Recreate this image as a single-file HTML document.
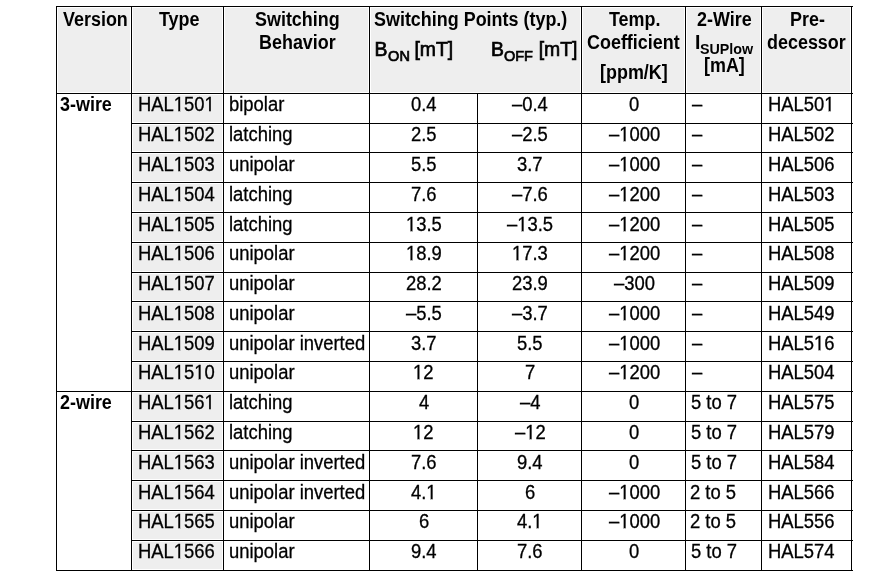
<!DOCTYPE html>
<html><head><meta charset="utf-8"><style>
html,body{margin:0;padding:0;background:#fff;width:874px;height:579px;overflow:hidden}
body{position:relative}
div{position:absolute}
#w{left:0;top:0;width:874px;height:579px;filter:grayscale(1)}
.t{font-family:"Liberation Sans",sans-serif;line-height:24px;color:#000;white-space:nowrap;transform-origin:0 0;-webkit-text-stroke:0.3px #000}
</style></head><body><div id="w">
<div style="left:58px;top:8px;width:72px;height:84px;background:#eeeeee"></div>
<div style="left:133px;top:8px;width:89px;height:84px;background:#eeeeee"></div>
<div style="left:225px;top:8px;width:143px;height:84px;background:#eeeeee"></div>
<div style="left:371px;top:8px;width:209px;height:84px;background:#eeeeee"></div>
<div style="left:583px;top:8px;width:101px;height:84px;background:#eeeeee"></div>
<div style="left:687px;top:8px;width:73px;height:84px;background:#eeeeee"></div>
<div style="left:763px;top:8px;width:87px;height:84px;background:#eeeeee"></div>
<div style="left:133px;top:95px;width:89px;height:27px;background:#eeeeee"></div>
<div style="left:133px;top:125px;width:89px;height:26px;background:#eeeeee"></div>
<div style="left:133px;top:154px;width:89px;height:27px;background:#eeeeee"></div>
<div style="left:133px;top:184px;width:89px;height:27px;background:#eeeeee"></div>
<div style="left:133px;top:214px;width:89px;height:27px;background:#eeeeee"></div>
<div style="left:133px;top:244px;width:89px;height:27px;background:#eeeeee"></div>
<div style="left:133px;top:274px;width:89px;height:26px;background:#eeeeee"></div>
<div style="left:133px;top:303px;width:89px;height:27px;background:#eeeeee"></div>
<div style="left:133px;top:333px;width:89px;height:27px;background:#eeeeee"></div>
<div style="left:133px;top:363px;width:89px;height:27px;background:#eeeeee"></div>
<div style="left:133px;top:393px;width:89px;height:27px;background:#eeeeee"></div>
<div style="left:133px;top:423px;width:89px;height:26px;background:#eeeeee"></div>
<div style="left:133px;top:452px;width:89px;height:27px;background:#eeeeee"></div>
<div style="left:133px;top:482px;width:89px;height:27px;background:#eeeeee"></div>
<div style="left:133px;top:512px;width:89px;height:27px;background:#eeeeee"></div>
<div style="left:133px;top:542px;width:89px;height:27px;background:#eeeeee"></div>
<div style="left:56px;top:6px;width:797px;height:1px;background:#000"></div>
<div style="left:56px;top:93px;width:797px;height:1px;background:#000"></div>
<div style="left:131px;top:123px;width:722px;height:1px;background:#000"></div>
<div style="left:131px;top:152px;width:722px;height:1px;background:#000"></div>
<div style="left:131px;top:182px;width:722px;height:1px;background:#000"></div>
<div style="left:131px;top:212px;width:722px;height:1px;background:#000"></div>
<div style="left:131px;top:242px;width:722px;height:1px;background:#000"></div>
<div style="left:131px;top:272px;width:722px;height:1px;background:#000"></div>
<div style="left:131px;top:301px;width:722px;height:1px;background:#000"></div>
<div style="left:131px;top:331px;width:722px;height:1px;background:#000"></div>
<div style="left:131px;top:361px;width:722px;height:1px;background:#000"></div>
<div style="left:56px;top:391px;width:797px;height:1px;background:#000"></div>
<div style="left:131px;top:421px;width:722px;height:1px;background:#000"></div>
<div style="left:131px;top:450px;width:722px;height:1px;background:#000"></div>
<div style="left:131px;top:480px;width:722px;height:1px;background:#000"></div>
<div style="left:131px;top:510px;width:722px;height:1px;background:#000"></div>
<div style="left:131px;top:540px;width:722px;height:1px;background:#000"></div>
<div style="left:56px;top:570px;width:797px;height:1px;background:#000"></div>
<div style="left:56px;top:6px;width:1px;height:565px;background:#000"></div>
<div style="left:131px;top:6px;width:1px;height:565px;background:#000"></div>
<div style="left:223px;top:6px;width:1px;height:565px;background:#000"></div>
<div style="left:369px;top:6px;width:1px;height:565px;background:#000"></div>
<div style="left:477px;top:93px;width:1px;height:478px;background:#000"></div>
<div style="left:581px;top:6px;width:1px;height:565px;background:#000"></div>
<div style="left:685px;top:6px;width:1px;height:565px;background:#000"></div>
<div style="left:761px;top:6px;width:1px;height:565px;background:#000"></div>
<div style="left:851px;top:6px;width:1px;height:565px;background:#000"></div>
<div class="t" style="left:59.99px;top:92px;font-size:19.4px;font-weight:bold;-webkit-text-stroke:0;transform:scaleX(0.925)">3-wire</div>
<div class="t" style="left:137.59px;top:92px;font-size:19.4px;transform:scaleX(0.95)">HAL1501</div>
<div class="t" style="left:228.70px;top:92px;font-size:19.4px;transform:scaleX(0.95)">bipolar</div>
<div class="t" style="left:411.00px;top:92px;font-size:19.4px;transform:scaleX(0.95)">0.4</div>
<div class="t" style="left:512.13px;top:92px;font-size:19.4px;transform:scaleX(0.95)">–0.4</div>
<div class="t" style="left:628.78px;top:92px;font-size:19.4px;transform:scaleX(0.95)">0</div>
<div class="t" style="left:692.00px;top:92px;font-size:19.4px;transform:scaleX(0.95)">–</div>
<div class="t" style="left:767.59px;top:92px;font-size:19.4px;transform:scaleX(0.95)">HAL501</div>
<div class="t" style="left:137.59px;top:122px;font-size:19.4px;transform:scaleX(0.95)">HAL1502</div>
<div class="t" style="left:228.70px;top:122px;font-size:19.4px;transform:scaleX(0.95)">latching</div>
<div class="t" style="left:411.01px;top:122px;font-size:19.4px;transform:scaleX(0.95)">2.5</div>
<div class="t" style="left:512.25px;top:122px;font-size:19.4px;transform:scaleX(0.95)">–2.5</div>
<div class="t" style="left:608.64px;top:122px;font-size:19.4px;transform:scaleX(0.95)">–1000</div>
<div class="t" style="left:692.00px;top:122px;font-size:19.4px;transform:scaleX(0.95)">–</div>
<div class="t" style="left:767.59px;top:122px;font-size:19.4px;transform:scaleX(0.95)">HAL502</div>
<div class="t" style="left:137.59px;top:152px;font-size:19.4px;transform:scaleX(0.95)">HAL1503</div>
<div class="t" style="left:228.70px;top:152px;font-size:19.4px;transform:scaleX(0.95)">unipolar</div>
<div class="t" style="left:411.11px;top:152px;font-size:19.4px;transform:scaleX(0.95)">5.5</div>
<div class="t" style="left:517.10px;top:152px;font-size:19.4px;transform:scaleX(0.95)">3.7</div>
<div class="t" style="left:608.64px;top:152px;font-size:19.4px;transform:scaleX(0.95)">–1000</div>
<div class="t" style="left:692.00px;top:152px;font-size:19.4px;transform:scaleX(0.95)">–</div>
<div class="t" style="left:767.59px;top:152px;font-size:19.4px;transform:scaleX(0.95)">HAL506</div>
<div class="t" style="left:137.59px;top:182px;font-size:19.4px;transform:scaleX(0.95)">HAL1504</div>
<div class="t" style="left:228.70px;top:182px;font-size:19.4px;transform:scaleX(0.95)">latching</div>
<div class="t" style="left:411.02px;top:182px;font-size:19.4px;transform:scaleX(0.95)">7.6</div>
<div class="t" style="left:512.27px;top:182px;font-size:19.4px;transform:scaleX(0.95)">–7.6</div>
<div class="t" style="left:608.64px;top:182px;font-size:19.4px;transform:scaleX(0.95)">–1200</div>
<div class="t" style="left:692.00px;top:182px;font-size:19.4px;transform:scaleX(0.95)">–</div>
<div class="t" style="left:767.59px;top:182px;font-size:19.4px;transform:scaleX(0.95)">HAL503</div>
<div class="t" style="left:137.59px;top:212px;font-size:19.4px;transform:scaleX(0.95)">HAL1505</div>
<div class="t" style="left:228.70px;top:212px;font-size:19.4px;transform:scaleX(0.95)">latching</div>
<div class="t" style="left:405.65px;top:212px;font-size:19.4px;transform:scaleX(0.95)">13.5</div>
<div class="t" style="left:507.13px;top:212px;font-size:19.4px;transform:scaleX(0.95)">–13.5</div>
<div class="t" style="left:608.64px;top:212px;font-size:19.4px;transform:scaleX(0.95)">–1200</div>
<div class="t" style="left:692.00px;top:212px;font-size:19.4px;transform:scaleX(0.95)">–</div>
<div class="t" style="left:767.59px;top:212px;font-size:19.4px;transform:scaleX(0.95)">HAL505</div>
<div class="t" style="left:137.59px;top:241px;font-size:19.4px;transform:scaleX(0.95)">HAL1506</div>
<div class="t" style="left:228.70px;top:241px;font-size:19.4px;transform:scaleX(0.95)">unipolar</div>
<div class="t" style="left:405.70px;top:241px;font-size:19.4px;transform:scaleX(0.95)">18.9</div>
<div class="t" style="left:511.57px;top:241px;font-size:19.4px;transform:scaleX(0.95)">17.3</div>
<div class="t" style="left:608.64px;top:241px;font-size:19.4px;transform:scaleX(0.95)">–1200</div>
<div class="t" style="left:692.00px;top:241px;font-size:19.4px;transform:scaleX(0.95)">–</div>
<div class="t" style="left:767.59px;top:241px;font-size:19.4px;transform:scaleX(0.95)">HAL508</div>
<div class="t" style="left:137.59px;top:271px;font-size:19.4px;transform:scaleX(0.95)">HAL1507</div>
<div class="t" style="left:228.70px;top:271px;font-size:19.4px;transform:scaleX(0.95)">unipolar</div>
<div class="t" style="left:405.96px;top:271px;font-size:19.4px;transform:scaleX(0.95)">28.2</div>
<div class="t" style="left:511.84px;top:271px;font-size:19.4px;transform:scaleX(0.95)">23.9</div>
<div class="t" style="left:613.76px;top:271px;font-size:19.4px;transform:scaleX(0.95)">–300</div>
<div class="t" style="left:692.00px;top:271px;font-size:19.4px;transform:scaleX(0.95)">–</div>
<div class="t" style="left:767.59px;top:271px;font-size:19.4px;transform:scaleX(0.95)">HAL509</div>
<div class="t" style="left:137.59px;top:301px;font-size:19.4px;transform:scaleX(0.95)">HAL1508</div>
<div class="t" style="left:228.70px;top:301px;font-size:19.4px;transform:scaleX(0.95)">unipolar</div>
<div class="t" style="left:406.35px;top:301px;font-size:19.4px;transform:scaleX(0.95)">–5.5</div>
<div class="t" style="left:512.33px;top:301px;font-size:19.4px;transform:scaleX(0.95)">–3.7</div>
<div class="t" style="left:608.64px;top:301px;font-size:19.4px;transform:scaleX(0.95)">–1000</div>
<div class="t" style="left:692.00px;top:301px;font-size:19.4px;transform:scaleX(0.95)">–</div>
<div class="t" style="left:767.59px;top:301px;font-size:19.4px;transform:scaleX(0.95)">HAL549</div>
<div class="t" style="left:137.59px;top:331px;font-size:19.4px;transform:scaleX(0.95)">HAL1509</div>
<div class="t" style="left:228.70px;top:331px;font-size:19.4px;transform:scaleX(0.95)">unipolar inverted</div>
<div class="t" style="left:411.20px;top:331px;font-size:19.4px;transform:scaleX(0.95)">3.7</div>
<div class="t" style="left:517.01px;top:331px;font-size:19.4px;transform:scaleX(0.95)">5.5</div>
<div class="t" style="left:608.64px;top:331px;font-size:19.4px;transform:scaleX(0.95)">–1000</div>
<div class="t" style="left:692.00px;top:331px;font-size:19.4px;transform:scaleX(0.95)">–</div>
<div class="t" style="left:767.59px;top:331px;font-size:19.4px;transform:scaleX(0.95)">HAL516</div>
<div class="t" style="left:137.59px;top:360px;font-size:19.4px;transform:scaleX(0.95)">HAL1510</div>
<div class="t" style="left:228.70px;top:360px;font-size:19.4px;transform:scaleX(0.95)">unipolar</div>
<div class="t" style="left:413.41px;top:360px;font-size:19.4px;transform:scaleX(0.95)">12</div>
<div class="t" style="left:524.67px;top:360px;font-size:19.4px;transform:scaleX(0.95)">7</div>
<div class="t" style="left:608.64px;top:360px;font-size:19.4px;transform:scaleX(0.95)">–1200</div>
<div class="t" style="left:692.00px;top:360px;font-size:19.4px;transform:scaleX(0.95)">–</div>
<div class="t" style="left:767.59px;top:360px;font-size:19.4px;transform:scaleX(0.95)">HAL504</div>
<div class="t" style="left:59.78px;top:390px;font-size:19.4px;font-weight:bold;-webkit-text-stroke:0;transform:scaleX(0.925)">2-wire</div>
<div class="t" style="left:137.59px;top:390px;font-size:19.4px;transform:scaleX(0.95)">HAL1561</div>
<div class="t" style="left:228.70px;top:390px;font-size:19.4px;transform:scaleX(0.95)">latching</div>
<div class="t" style="left:418.83px;top:390px;font-size:19.4px;transform:scaleX(0.95)">4</div>
<div class="t" style="left:519.82px;top:390px;font-size:19.4px;transform:scaleX(0.95)">–4</div>
<div class="t" style="left:628.78px;top:390px;font-size:19.4px;transform:scaleX(0.95)">0</div>
<div class="t" style="left:690.66px;top:390px;font-size:19.4px;transform:scaleX(0.95)">5 to 7</div>
<div class="t" style="left:767.59px;top:390px;font-size:19.4px;transform:scaleX(0.95)">HAL575</div>
<div class="t" style="left:137.59px;top:420px;font-size:19.4px;transform:scaleX(0.95)">HAL1562</div>
<div class="t" style="left:228.70px;top:420px;font-size:19.4px;transform:scaleX(0.95)">latching</div>
<div class="t" style="left:413.41px;top:420px;font-size:19.4px;transform:scaleX(0.95)">12</div>
<div class="t" style="left:514.89px;top:420px;font-size:19.4px;transform:scaleX(0.95)">–12</div>
<div class="t" style="left:628.78px;top:420px;font-size:19.4px;transform:scaleX(0.95)">0</div>
<div class="t" style="left:690.66px;top:420px;font-size:19.4px;transform:scaleX(0.95)">5 to 7</div>
<div class="t" style="left:767.59px;top:420px;font-size:19.4px;transform:scaleX(0.95)">HAL579</div>
<div class="t" style="left:137.59px;top:450px;font-size:19.4px;transform:scaleX(0.95)">HAL1563</div>
<div class="t" style="left:228.70px;top:450px;font-size:19.4px;transform:scaleX(0.95)">unipolar inverted</div>
<div class="t" style="left:411.02px;top:450px;font-size:19.4px;transform:scaleX(0.95)">7.6</div>
<div class="t" style="left:516.83px;top:450px;font-size:19.4px;transform:scaleX(0.95)">9.4</div>
<div class="t" style="left:628.78px;top:450px;font-size:19.4px;transform:scaleX(0.95)">0</div>
<div class="t" style="left:690.66px;top:450px;font-size:19.4px;transform:scaleX(0.95)">5 to 7</div>
<div class="t" style="left:767.59px;top:450px;font-size:19.4px;transform:scaleX(0.95)">HAL584</div>
<div class="t" style="left:137.59px;top:480px;font-size:19.4px;transform:scaleX(0.95)">HAL1564</div>
<div class="t" style="left:228.70px;top:480px;font-size:19.4px;transform:scaleX(0.95)">unipolar inverted</div>
<div class="t" style="left:411.33px;top:480px;font-size:19.4px;transform:scaleX(0.95)">4.1</div>
<div class="t" style="left:524.61px;top:480px;font-size:19.4px;transform:scaleX(0.95)">6</div>
<div class="t" style="left:608.64px;top:480px;font-size:19.4px;transform:scaleX(0.95)">–1000</div>
<div class="t" style="left:690.47px;top:480px;font-size:19.4px;transform:scaleX(0.95)">2 to 5</div>
<div class="t" style="left:767.59px;top:480px;font-size:19.4px;transform:scaleX(0.95)">HAL566</div>
<div class="t" style="left:137.59px;top:509px;font-size:19.4px;transform:scaleX(0.95)">HAL1565</div>
<div class="t" style="left:228.70px;top:509px;font-size:19.4px;transform:scaleX(0.95)">unipolar</div>
<div class="t" style="left:418.71px;top:509px;font-size:19.4px;transform:scaleX(0.95)">6</div>
<div class="t" style="left:517.23px;top:509px;font-size:19.4px;transform:scaleX(0.95)">4.1</div>
<div class="t" style="left:608.64px;top:509px;font-size:19.4px;transform:scaleX(0.95)">–1000</div>
<div class="t" style="left:690.47px;top:509px;font-size:19.4px;transform:scaleX(0.95)">2 to 5</div>
<div class="t" style="left:767.59px;top:509px;font-size:19.4px;transform:scaleX(0.95)">HAL556</div>
<div class="t" style="left:137.59px;top:539px;font-size:19.4px;transform:scaleX(0.95)">HAL1566</div>
<div class="t" style="left:228.70px;top:539px;font-size:19.4px;transform:scaleX(0.95)">unipolar</div>
<div class="t" style="left:410.93px;top:539px;font-size:19.4px;transform:scaleX(0.95)">9.4</div>
<div class="t" style="left:516.92px;top:539px;font-size:19.4px;transform:scaleX(0.95)">7.6</div>
<div class="t" style="left:628.78px;top:539px;font-size:19.4px;transform:scaleX(0.95)">0</div>
<div class="t" style="left:690.66px;top:539px;font-size:19.4px;transform:scaleX(0.95)">5 to 7</div>
<div class="t" style="left:767.59px;top:539px;font-size:19.4px;transform:scaleX(0.95)">HAL574</div>
<div class="t" style="left:62.88px;top:7px;font-size:19.4px;font-weight:bold;-webkit-text-stroke:0;transform:scaleX(0.925)">Version</div>
<div class="t" style="left:159.16px;top:7px;font-size:19.4px;font-weight:bold;-webkit-text-stroke:0;transform:scaleX(0.925)">Type</div>
<div class="t" style="left:254.57px;top:7px;font-size:19.4px;font-weight:bold;-webkit-text-stroke:0;transform:scaleX(0.925)">Switching</div>
<div class="t" style="left:258.84px;top:30px;font-size:19.4px;font-weight:bold;-webkit-text-stroke:0;transform:scaleX(0.925)">Behavior</div>
<div class="t" style="left:374.38px;top:7px;font-size:19.4px;font-weight:bold;-webkit-text-stroke:0;transform:scaleX(0.925)">Switching Points (typ.)</div>
<div class="t" style="left:374.51px;top:37px;font-size:19.4px;-webkit-text-stroke:0.7px #000">B</div>
<div class="t" style="left:388.11px;top:44px;font-size:14.5px;-webkit-text-stroke:0.7px #000">ON</div>
<div class="t" style="left:414.42px;top:37px;font-size:19.4px;-webkit-text-stroke:0.7px #000">[mT]</div>
<div class="t" style="left:491.01px;top:37px;font-size:19.4px;-webkit-text-stroke:0.7px #000">B</div>
<div class="t" style="left:503.91px;top:44px;font-size:14.5px;-webkit-text-stroke:0.7px #000">OFF</div>
<div class="t" style="left:538.69px;top:37px;font-size:19.4px;-webkit-text-stroke:0.7px #000">[mT]</div>
<div class="t" style="left:608.99px;top:7px;font-size:19.4px;font-weight:bold;-webkit-text-stroke:0;transform:scaleX(0.925)">Temp.</div>
<div class="t" style="left:587.43px;top:30px;font-size:19.4px;font-weight:bold;-webkit-text-stroke:0;transform:scaleX(0.925)">Coefficient</div>
<div class="t" style="left:600.36px;top:60px;font-size:19.4px;font-weight:bold;-webkit-text-stroke:0;transform:scaleX(0.925)">[ppm/K]</div>
<div class="t" style="left:697.17px;top:7px;font-size:19.4px;font-weight:bold;-webkit-text-stroke:0;transform:scaleX(0.925)">2-Wire</div>
<div class="t" style="left:694.90px;top:30px;font-size:19.4px;font-weight:bold;-webkit-text-stroke:0">I</div>
<div class="t" style="left:700.19px;top:37px;font-size:14.5px;font-weight:bold;-webkit-text-stroke:0;transform:scaleX(0.985)">SUPlow</div>
<div class="t" style="left:704.07px;top:53px;font-size:19.4px;font-weight:bold;-webkit-text-stroke:0;transform:scaleX(0.925)">[mA]</div>
<div class="t" style="left:789.80px;top:7px;font-size:19.4px;font-weight:bold;-webkit-text-stroke:0;transform:scaleX(0.925)">Pre-</div>
<div class="t" style="left:766.86px;top:30px;font-size:19.4px;font-weight:bold;-webkit-text-stroke:0;transform:scaleX(0.925)">decessor</div>
<div style="left:175px;top:109px;width:3px;height:1px;background:#eeeeee"></div>
<div style="left:178px;top:109px;width:1px;height:1px;background:#434343"></div>
<div style="left:180px;top:109px;width:1px;height:1px;background:#c6c6c6"></div>
<div style="left:181px;top:109px;width:3px;height:1px;background:#eeeeee"></div>
<div style="left:175px;top:110px;width:3px;height:1px;background:#eeeeee"></div>
<div style="left:178px;top:110px;width:1px;height:1px;background:#434343"></div>
<div style="left:180px;top:110px;width:1px;height:1px;background:#c6c6c6"></div>
<div style="left:181px;top:110px;width:3px;height:1px;background:#eeeeee"></div>
<div style="left:175px;top:111px;width:3px;height:1px;background:#eeeeee"></div>
<div style="left:180px;top:111px;width:1px;height:1px;background:#c6c6c6"></div>
<div style="left:181px;top:111px;width:3px;height:1px;background:#eeeeee"></div>
<div style="left:205px;top:109px;width:3px;height:1px;background:#eeeeee"></div>
<div style="left:208px;top:109px;width:1px;height:1px;background:#ebebeb"></div>
<div style="left:209px;top:109px;width:1px;height:1px;background:#1a1a1a"></div>
<div style="left:210px;top:109px;width:1px;height:1px;background:#2d2d2d"></div>
<div style="left:211px;top:109px;width:3px;height:1px;background:#eeeeee"></div>
<div style="left:205px;top:110px;width:3px;height:1px;background:#eeeeee"></div>
<div style="left:208px;top:110px;width:1px;height:1px;background:#ebebeb"></div>
<div style="left:209px;top:110px;width:1px;height:1px;background:#1a1a1a"></div>
<div style="left:210px;top:110px;width:1px;height:1px;background:#2d2d2d"></div>
<div style="left:211px;top:110px;width:3px;height:1px;background:#eeeeee"></div>
<div style="left:205px;top:111px;width:3px;height:1px;background:#eeeeee"></div>
<div style="left:208px;top:111px;width:1px;height:1px;background:#ebebeb"></div>
<div style="left:211px;top:111px;width:3px;height:1px;background:#eeeeee"></div>
<div style="left:825px;top:109px;width:3px;height:1px;background:#ffffff"></div>
<div style="left:828px;top:109px;width:1px;height:1px;background:#a6a6a6"></div>
<div style="left:830px;top:109px;width:1px;height:1px;background:#5b5b5b"></div>
<div style="left:831px;top:109px;width:3px;height:1px;background:#ffffff"></div>
<div style="left:825px;top:110px;width:3px;height:1px;background:#ffffff"></div>
<div style="left:828px;top:110px;width:1px;height:1px;background:#a6a6a6"></div>
<div style="left:830px;top:110px;width:1px;height:1px;background:#5b5b5b"></div>
<div style="left:831px;top:110px;width:3px;height:1px;background:#ffffff"></div>
<div style="left:825px;top:111px;width:3px;height:1px;background:#ffffff"></div>
<div style="left:831px;top:111px;width:3px;height:1px;background:#ffffff"></div>
<div style="left:175px;top:139px;width:3px;height:1px;background:#eeeeee"></div>
<div style="left:178px;top:139px;width:1px;height:1px;background:#434343"></div>
<div style="left:180px;top:139px;width:1px;height:1px;background:#c6c6c6"></div>
<div style="left:181px;top:139px;width:3px;height:1px;background:#eeeeee"></div>
<div style="left:175px;top:140px;width:3px;height:1px;background:#eeeeee"></div>
<div style="left:178px;top:140px;width:1px;height:1px;background:#434343"></div>
<div style="left:180px;top:140px;width:1px;height:1px;background:#c6c6c6"></div>
<div style="left:181px;top:140px;width:3px;height:1px;background:#eeeeee"></div>
<div style="left:175px;top:141px;width:3px;height:1px;background:#eeeeee"></div>
<div style="left:180px;top:141px;width:1px;height:1px;background:#c6c6c6"></div>
<div style="left:181px;top:141px;width:3px;height:1px;background:#eeeeee"></div>
<div style="left:620px;top:139px;width:3px;height:1px;background:#ffffff"></div>
<div style="left:623px;top:139px;width:1px;height:1px;background:#a6a6a6"></div>
<div style="left:625px;top:139px;width:1px;height:1px;background:#5b5b5b"></div>
<div style="left:626px;top:139px;width:3px;height:1px;background:#ffffff"></div>
<div style="left:620px;top:140px;width:3px;height:1px;background:#ffffff"></div>
<div style="left:623px;top:140px;width:1px;height:1px;background:#a6a6a6"></div>
<div style="left:625px;top:140px;width:1px;height:1px;background:#5b5b5b"></div>
<div style="left:626px;top:140px;width:3px;height:1px;background:#ffffff"></div>
<div style="left:620px;top:141px;width:3px;height:1px;background:#ffffff"></div>
<div style="left:626px;top:141px;width:3px;height:1px;background:#ffffff"></div>
<div style="left:175px;top:169px;width:3px;height:1px;background:#eeeeee"></div>
<div style="left:178px;top:169px;width:1px;height:1px;background:#434343"></div>
<div style="left:180px;top:169px;width:1px;height:1px;background:#c6c6c6"></div>
<div style="left:181px;top:169px;width:3px;height:1px;background:#eeeeee"></div>
<div style="left:175px;top:170px;width:3px;height:1px;background:#eeeeee"></div>
<div style="left:178px;top:170px;width:1px;height:1px;background:#434343"></div>
<div style="left:180px;top:170px;width:1px;height:1px;background:#c6c6c6"></div>
<div style="left:181px;top:170px;width:3px;height:1px;background:#eeeeee"></div>
<div style="left:175px;top:171px;width:3px;height:1px;background:#eeeeee"></div>
<div style="left:180px;top:171px;width:1px;height:1px;background:#c6c6c6"></div>
<div style="left:181px;top:171px;width:3px;height:1px;background:#eeeeee"></div>
<div style="left:620px;top:169px;width:3px;height:1px;background:#ffffff"></div>
<div style="left:623px;top:169px;width:1px;height:1px;background:#a6a6a6"></div>
<div style="left:625px;top:169px;width:1px;height:1px;background:#5b5b5b"></div>
<div style="left:626px;top:169px;width:3px;height:1px;background:#ffffff"></div>
<div style="left:620px;top:170px;width:3px;height:1px;background:#ffffff"></div>
<div style="left:623px;top:170px;width:1px;height:1px;background:#a6a6a6"></div>
<div style="left:625px;top:170px;width:1px;height:1px;background:#5b5b5b"></div>
<div style="left:626px;top:170px;width:3px;height:1px;background:#ffffff"></div>
<div style="left:620px;top:171px;width:3px;height:1px;background:#ffffff"></div>
<div style="left:626px;top:171px;width:3px;height:1px;background:#ffffff"></div>
<div style="left:175px;top:199px;width:3px;height:1px;background:#eeeeee"></div>
<div style="left:178px;top:199px;width:1px;height:1px;background:#434343"></div>
<div style="left:180px;top:199px;width:1px;height:1px;background:#c6c6c6"></div>
<div style="left:181px;top:199px;width:3px;height:1px;background:#eeeeee"></div>
<div style="left:175px;top:200px;width:3px;height:1px;background:#eeeeee"></div>
<div style="left:178px;top:200px;width:1px;height:1px;background:#434343"></div>
<div style="left:180px;top:200px;width:1px;height:1px;background:#c6c6c6"></div>
<div style="left:181px;top:200px;width:3px;height:1px;background:#eeeeee"></div>
<div style="left:175px;top:201px;width:3px;height:1px;background:#eeeeee"></div>
<div style="left:180px;top:201px;width:1px;height:1px;background:#c6c6c6"></div>
<div style="left:181px;top:201px;width:3px;height:1px;background:#eeeeee"></div>
<div style="left:620px;top:199px;width:3px;height:1px;background:#ffffff"></div>
<div style="left:623px;top:199px;width:1px;height:1px;background:#a6a6a6"></div>
<div style="left:625px;top:199px;width:1px;height:1px;background:#5b5b5b"></div>
<div style="left:626px;top:199px;width:3px;height:1px;background:#ffffff"></div>
<div style="left:620px;top:200px;width:3px;height:1px;background:#ffffff"></div>
<div style="left:623px;top:200px;width:1px;height:1px;background:#a6a6a6"></div>
<div style="left:625px;top:200px;width:1px;height:1px;background:#5b5b5b"></div>
<div style="left:626px;top:200px;width:3px;height:1px;background:#ffffff"></div>
<div style="left:620px;top:201px;width:3px;height:1px;background:#ffffff"></div>
<div style="left:626px;top:201px;width:3px;height:1px;background:#ffffff"></div>
<div style="left:175px;top:229px;width:3px;height:1px;background:#eeeeee"></div>
<div style="left:178px;top:229px;width:1px;height:1px;background:#434343"></div>
<div style="left:180px;top:229px;width:1px;height:1px;background:#c6c6c6"></div>
<div style="left:181px;top:229px;width:3px;height:1px;background:#eeeeee"></div>
<div style="left:175px;top:230px;width:3px;height:1px;background:#eeeeee"></div>
<div style="left:178px;top:230px;width:1px;height:1px;background:#434343"></div>
<div style="left:180px;top:230px;width:1px;height:1px;background:#c6c6c6"></div>
<div style="left:181px;top:230px;width:3px;height:1px;background:#eeeeee"></div>
<div style="left:175px;top:231px;width:3px;height:1px;background:#eeeeee"></div>
<div style="left:180px;top:231px;width:1px;height:1px;background:#c6c6c6"></div>
<div style="left:181px;top:231px;width:3px;height:1px;background:#eeeeee"></div>
<div style="left:407px;top:229px;width:3px;height:1px;background:#ffffff"></div>
<div style="left:410px;top:229px;width:1px;height:1px;background:#747474"></div>
<div style="left:412px;top:229px;width:1px;height:1px;background:#888888"></div>
<div style="left:413px;top:229px;width:3px;height:1px;background:#ffffff"></div>
<div style="left:407px;top:230px;width:3px;height:1px;background:#ffffff"></div>
<div style="left:410px;top:230px;width:1px;height:1px;background:#747474"></div>
<div style="left:412px;top:230px;width:1px;height:1px;background:#888888"></div>
<div style="left:413px;top:230px;width:3px;height:1px;background:#ffffff"></div>
<div style="left:407px;top:231px;width:3px;height:1px;background:#ffffff"></div>
<div style="left:413px;top:231px;width:3px;height:1px;background:#ffffff"></div>
<div style="left:518px;top:229px;width:3px;height:1px;background:#ffffff"></div>
<div style="left:521px;top:229px;width:1px;height:1px;background:#a6a6a6"></div>
<div style="left:523px;top:229px;width:1px;height:1px;background:#5b5b5b"></div>
<div style="left:524px;top:229px;width:3px;height:1px;background:#ffffff"></div>
<div style="left:518px;top:230px;width:3px;height:1px;background:#ffffff"></div>
<div style="left:521px;top:230px;width:1px;height:1px;background:#a6a6a6"></div>
<div style="left:523px;top:230px;width:1px;height:1px;background:#5b5b5b"></div>
<div style="left:524px;top:230px;width:3px;height:1px;background:#ffffff"></div>
<div style="left:518px;top:231px;width:3px;height:1px;background:#ffffff"></div>
<div style="left:524px;top:231px;width:3px;height:1px;background:#ffffff"></div>
<div style="left:620px;top:229px;width:3px;height:1px;background:#ffffff"></div>
<div style="left:623px;top:229px;width:1px;height:1px;background:#a6a6a6"></div>
<div style="left:625px;top:229px;width:1px;height:1px;background:#5b5b5b"></div>
<div style="left:626px;top:229px;width:3px;height:1px;background:#ffffff"></div>
<div style="left:620px;top:230px;width:3px;height:1px;background:#ffffff"></div>
<div style="left:623px;top:230px;width:1px;height:1px;background:#a6a6a6"></div>
<div style="left:625px;top:230px;width:1px;height:1px;background:#5b5b5b"></div>
<div style="left:626px;top:230px;width:3px;height:1px;background:#ffffff"></div>
<div style="left:620px;top:231px;width:3px;height:1px;background:#ffffff"></div>
<div style="left:626px;top:231px;width:3px;height:1px;background:#ffffff"></div>
<div style="left:175px;top:258px;width:3px;height:1px;background:#eeeeee"></div>
<div style="left:178px;top:258px;width:1px;height:1px;background:#434343"></div>
<div style="left:180px;top:258px;width:1px;height:1px;background:#c6c6c6"></div>
<div style="left:181px;top:258px;width:3px;height:1px;background:#eeeeee"></div>
<div style="left:175px;top:259px;width:3px;height:1px;background:#eeeeee"></div>
<div style="left:178px;top:259px;width:1px;height:1px;background:#434343"></div>
<div style="left:180px;top:259px;width:1px;height:1px;background:#c6c6c6"></div>
<div style="left:181px;top:259px;width:3px;height:1px;background:#eeeeee"></div>
<div style="left:175px;top:260px;width:3px;height:1px;background:#eeeeee"></div>
<div style="left:180px;top:260px;width:1px;height:1px;background:#c6c6c6"></div>
<div style="left:181px;top:260px;width:3px;height:1px;background:#eeeeee"></div>
<div style="left:407px;top:258px;width:3px;height:1px;background:#ffffff"></div>
<div style="left:410px;top:258px;width:1px;height:1px;background:#747474"></div>
<div style="left:412px;top:258px;width:1px;height:1px;background:#888888"></div>
<div style="left:413px;top:258px;width:3px;height:1px;background:#ffffff"></div>
<div style="left:407px;top:259px;width:3px;height:1px;background:#ffffff"></div>
<div style="left:410px;top:259px;width:1px;height:1px;background:#747474"></div>
<div style="left:412px;top:259px;width:1px;height:1px;background:#888888"></div>
<div style="left:413px;top:259px;width:3px;height:1px;background:#ffffff"></div>
<div style="left:407px;top:260px;width:3px;height:1px;background:#ffffff"></div>
<div style="left:413px;top:260px;width:3px;height:1px;background:#ffffff"></div>
<div style="left:513px;top:258px;width:3px;height:1px;background:#ffffff"></div>
<div style="left:516px;top:258px;width:1px;height:1px;background:#747474"></div>
<div style="left:518px;top:258px;width:1px;height:1px;background:#888888"></div>
<div style="left:519px;top:258px;width:3px;height:1px;background:#ffffff"></div>
<div style="left:513px;top:259px;width:3px;height:1px;background:#ffffff"></div>
<div style="left:516px;top:259px;width:1px;height:1px;background:#747474"></div>
<div style="left:518px;top:259px;width:1px;height:1px;background:#888888"></div>
<div style="left:519px;top:259px;width:3px;height:1px;background:#ffffff"></div>
<div style="left:513px;top:260px;width:3px;height:1px;background:#ffffff"></div>
<div style="left:519px;top:260px;width:3px;height:1px;background:#ffffff"></div>
<div style="left:620px;top:258px;width:3px;height:1px;background:#ffffff"></div>
<div style="left:623px;top:258px;width:1px;height:1px;background:#a6a6a6"></div>
<div style="left:625px;top:258px;width:1px;height:1px;background:#5b5b5b"></div>
<div style="left:626px;top:258px;width:3px;height:1px;background:#ffffff"></div>
<div style="left:620px;top:259px;width:3px;height:1px;background:#ffffff"></div>
<div style="left:623px;top:259px;width:1px;height:1px;background:#a6a6a6"></div>
<div style="left:625px;top:259px;width:1px;height:1px;background:#5b5b5b"></div>
<div style="left:626px;top:259px;width:3px;height:1px;background:#ffffff"></div>
<div style="left:620px;top:260px;width:3px;height:1px;background:#ffffff"></div>
<div style="left:626px;top:260px;width:3px;height:1px;background:#ffffff"></div>
<div style="left:175px;top:288px;width:3px;height:1px;background:#eeeeee"></div>
<div style="left:178px;top:288px;width:1px;height:1px;background:#434343"></div>
<div style="left:180px;top:288px;width:1px;height:1px;background:#c6c6c6"></div>
<div style="left:181px;top:288px;width:3px;height:1px;background:#eeeeee"></div>
<div style="left:175px;top:289px;width:3px;height:1px;background:#eeeeee"></div>
<div style="left:178px;top:289px;width:1px;height:1px;background:#434343"></div>
<div style="left:180px;top:289px;width:1px;height:1px;background:#c6c6c6"></div>
<div style="left:181px;top:289px;width:3px;height:1px;background:#eeeeee"></div>
<div style="left:175px;top:290px;width:3px;height:1px;background:#eeeeee"></div>
<div style="left:180px;top:290px;width:1px;height:1px;background:#c6c6c6"></div>
<div style="left:181px;top:290px;width:3px;height:1px;background:#eeeeee"></div>
<div style="left:175px;top:318px;width:3px;height:1px;background:#eeeeee"></div>
<div style="left:178px;top:318px;width:1px;height:1px;background:#434343"></div>
<div style="left:180px;top:318px;width:1px;height:1px;background:#c6c6c6"></div>
<div style="left:181px;top:318px;width:3px;height:1px;background:#eeeeee"></div>
<div style="left:175px;top:319px;width:3px;height:1px;background:#eeeeee"></div>
<div style="left:178px;top:319px;width:1px;height:1px;background:#434343"></div>
<div style="left:180px;top:319px;width:1px;height:1px;background:#c6c6c6"></div>
<div style="left:181px;top:319px;width:3px;height:1px;background:#eeeeee"></div>
<div style="left:175px;top:320px;width:3px;height:1px;background:#eeeeee"></div>
<div style="left:180px;top:320px;width:1px;height:1px;background:#c6c6c6"></div>
<div style="left:181px;top:320px;width:3px;height:1px;background:#eeeeee"></div>
<div style="left:620px;top:318px;width:3px;height:1px;background:#ffffff"></div>
<div style="left:623px;top:318px;width:1px;height:1px;background:#a6a6a6"></div>
<div style="left:625px;top:318px;width:1px;height:1px;background:#5b5b5b"></div>
<div style="left:626px;top:318px;width:3px;height:1px;background:#ffffff"></div>
<div style="left:620px;top:319px;width:3px;height:1px;background:#ffffff"></div>
<div style="left:623px;top:319px;width:1px;height:1px;background:#a6a6a6"></div>
<div style="left:625px;top:319px;width:1px;height:1px;background:#5b5b5b"></div>
<div style="left:626px;top:319px;width:3px;height:1px;background:#ffffff"></div>
<div style="left:620px;top:320px;width:3px;height:1px;background:#ffffff"></div>
<div style="left:626px;top:320px;width:3px;height:1px;background:#ffffff"></div>
<div style="left:175px;top:348px;width:3px;height:1px;background:#eeeeee"></div>
<div style="left:178px;top:348px;width:1px;height:1px;background:#434343"></div>
<div style="left:180px;top:348px;width:1px;height:1px;background:#c6c6c6"></div>
<div style="left:181px;top:348px;width:3px;height:1px;background:#eeeeee"></div>
<div style="left:175px;top:349px;width:3px;height:1px;background:#eeeeee"></div>
<div style="left:178px;top:349px;width:1px;height:1px;background:#434343"></div>
<div style="left:180px;top:349px;width:1px;height:1px;background:#c6c6c6"></div>
<div style="left:181px;top:349px;width:3px;height:1px;background:#eeeeee"></div>
<div style="left:175px;top:350px;width:3px;height:1px;background:#eeeeee"></div>
<div style="left:180px;top:350px;width:1px;height:1px;background:#c6c6c6"></div>
<div style="left:181px;top:350px;width:3px;height:1px;background:#eeeeee"></div>
<div style="left:620px;top:348px;width:3px;height:1px;background:#ffffff"></div>
<div style="left:623px;top:348px;width:1px;height:1px;background:#a6a6a6"></div>
<div style="left:625px;top:348px;width:1px;height:1px;background:#5b5b5b"></div>
<div style="left:626px;top:348px;width:3px;height:1px;background:#ffffff"></div>
<div style="left:620px;top:349px;width:3px;height:1px;background:#ffffff"></div>
<div style="left:623px;top:349px;width:1px;height:1px;background:#a6a6a6"></div>
<div style="left:625px;top:349px;width:1px;height:1px;background:#5b5b5b"></div>
<div style="left:626px;top:349px;width:3px;height:1px;background:#ffffff"></div>
<div style="left:620px;top:350px;width:3px;height:1px;background:#ffffff"></div>
<div style="left:626px;top:350px;width:3px;height:1px;background:#ffffff"></div>
<div style="left:815px;top:348px;width:3px;height:1px;background:#ffffff"></div>
<div style="left:818px;top:348px;width:1px;height:1px;background:#747474"></div>
<div style="left:820px;top:348px;width:1px;height:1px;background:#888888"></div>
<div style="left:821px;top:348px;width:3px;height:1px;background:#ffffff"></div>
<div style="left:815px;top:349px;width:3px;height:1px;background:#ffffff"></div>
<div style="left:818px;top:349px;width:1px;height:1px;background:#747474"></div>
<div style="left:820px;top:349px;width:1px;height:1px;background:#888888"></div>
<div style="left:821px;top:349px;width:3px;height:1px;background:#ffffff"></div>
<div style="left:815px;top:350px;width:3px;height:1px;background:#ffffff"></div>
<div style="left:821px;top:350px;width:3px;height:1px;background:#ffffff"></div>
<div style="left:175px;top:377px;width:3px;height:1px;background:#eeeeee"></div>
<div style="left:178px;top:377px;width:1px;height:1px;background:#434343"></div>
<div style="left:180px;top:377px;width:1px;height:1px;background:#c6c6c6"></div>
<div style="left:181px;top:377px;width:3px;height:1px;background:#eeeeee"></div>
<div style="left:175px;top:378px;width:3px;height:1px;background:#eeeeee"></div>
<div style="left:178px;top:378px;width:1px;height:1px;background:#434343"></div>
<div style="left:180px;top:378px;width:1px;height:1px;background:#c6c6c6"></div>
<div style="left:181px;top:378px;width:3px;height:1px;background:#eeeeee"></div>
<div style="left:175px;top:379px;width:3px;height:1px;background:#eeeeee"></div>
<div style="left:180px;top:379px;width:1px;height:1px;background:#c6c6c6"></div>
<div style="left:181px;top:379px;width:3px;height:1px;background:#eeeeee"></div>
<div style="left:195px;top:377px;width:3px;height:1px;background:#eeeeee"></div>
<div style="left:198px;top:377px;width:1px;height:1px;background:#9b9b9b"></div>
<div style="left:200px;top:377px;width:1px;height:1px;background:#555555"></div>
<div style="left:201px;top:377px;width:3px;height:1px;background:#eeeeee"></div>
<div style="left:195px;top:378px;width:3px;height:1px;background:#eeeeee"></div>
<div style="left:198px;top:378px;width:1px;height:1px;background:#9b9b9b"></div>
<div style="left:200px;top:378px;width:1px;height:1px;background:#555555"></div>
<div style="left:201px;top:378px;width:3px;height:1px;background:#eeeeee"></div>
<div style="left:195px;top:379px;width:3px;height:1px;background:#eeeeee"></div>
<div style="left:201px;top:379px;width:3px;height:1px;background:#eeeeee"></div>
<div style="left:414px;top:377px;width:3px;height:1px;background:#ffffff"></div>
<div style="left:417px;top:377px;width:1px;height:1px;background:#747474"></div>
<div style="left:419px;top:377px;width:1px;height:1px;background:#888888"></div>
<div style="left:420px;top:377px;width:3px;height:1px;background:#ffffff"></div>
<div style="left:414px;top:378px;width:3px;height:1px;background:#ffffff"></div>
<div style="left:417px;top:378px;width:1px;height:1px;background:#747474"></div>
<div style="left:419px;top:378px;width:1px;height:1px;background:#888888"></div>
<div style="left:420px;top:378px;width:3px;height:1px;background:#ffffff"></div>
<div style="left:414px;top:379px;width:3px;height:1px;background:#ffffff"></div>
<div style="left:420px;top:379px;width:3px;height:1px;background:#ffffff"></div>
<div style="left:620px;top:377px;width:3px;height:1px;background:#ffffff"></div>
<div style="left:623px;top:377px;width:1px;height:1px;background:#a6a6a6"></div>
<div style="left:625px;top:377px;width:1px;height:1px;background:#5b5b5b"></div>
<div style="left:626px;top:377px;width:3px;height:1px;background:#ffffff"></div>
<div style="left:620px;top:378px;width:3px;height:1px;background:#ffffff"></div>
<div style="left:623px;top:378px;width:1px;height:1px;background:#a6a6a6"></div>
<div style="left:625px;top:378px;width:1px;height:1px;background:#5b5b5b"></div>
<div style="left:626px;top:378px;width:3px;height:1px;background:#ffffff"></div>
<div style="left:620px;top:379px;width:3px;height:1px;background:#ffffff"></div>
<div style="left:626px;top:379px;width:3px;height:1px;background:#ffffff"></div>
<div style="left:175px;top:407px;width:3px;height:1px;background:#eeeeee"></div>
<div style="left:178px;top:407px;width:1px;height:1px;background:#434343"></div>
<div style="left:180px;top:407px;width:1px;height:1px;background:#c6c6c6"></div>
<div style="left:181px;top:407px;width:3px;height:1px;background:#eeeeee"></div>
<div style="left:175px;top:408px;width:3px;height:1px;background:#eeeeee"></div>
<div style="left:178px;top:408px;width:1px;height:1px;background:#434343"></div>
<div style="left:180px;top:408px;width:1px;height:1px;background:#c6c6c6"></div>
<div style="left:181px;top:408px;width:3px;height:1px;background:#eeeeee"></div>
<div style="left:175px;top:409px;width:3px;height:1px;background:#eeeeee"></div>
<div style="left:180px;top:409px;width:1px;height:1px;background:#c6c6c6"></div>
<div style="left:181px;top:409px;width:3px;height:1px;background:#eeeeee"></div>
<div style="left:205px;top:407px;width:3px;height:1px;background:#eeeeee"></div>
<div style="left:208px;top:407px;width:1px;height:1px;background:#ebebeb"></div>
<div style="left:209px;top:407px;width:1px;height:1px;background:#1a1a1a"></div>
<div style="left:210px;top:407px;width:1px;height:1px;background:#2d2d2d"></div>
<div style="left:211px;top:407px;width:3px;height:1px;background:#eeeeee"></div>
<div style="left:205px;top:408px;width:3px;height:1px;background:#eeeeee"></div>
<div style="left:208px;top:408px;width:1px;height:1px;background:#ebebeb"></div>
<div style="left:209px;top:408px;width:1px;height:1px;background:#1a1a1a"></div>
<div style="left:210px;top:408px;width:1px;height:1px;background:#2d2d2d"></div>
<div style="left:211px;top:408px;width:3px;height:1px;background:#eeeeee"></div>
<div style="left:205px;top:409px;width:3px;height:1px;background:#eeeeee"></div>
<div style="left:208px;top:409px;width:1px;height:1px;background:#ebebeb"></div>
<div style="left:211px;top:409px;width:3px;height:1px;background:#eeeeee"></div>
<div style="left:175px;top:437px;width:3px;height:1px;background:#eeeeee"></div>
<div style="left:178px;top:437px;width:1px;height:1px;background:#434343"></div>
<div style="left:180px;top:437px;width:1px;height:1px;background:#c6c6c6"></div>
<div style="left:181px;top:437px;width:3px;height:1px;background:#eeeeee"></div>
<div style="left:175px;top:438px;width:3px;height:1px;background:#eeeeee"></div>
<div style="left:178px;top:438px;width:1px;height:1px;background:#434343"></div>
<div style="left:180px;top:438px;width:1px;height:1px;background:#c6c6c6"></div>
<div style="left:181px;top:438px;width:3px;height:1px;background:#eeeeee"></div>
<div style="left:175px;top:439px;width:3px;height:1px;background:#eeeeee"></div>
<div style="left:180px;top:439px;width:1px;height:1px;background:#c6c6c6"></div>
<div style="left:181px;top:439px;width:3px;height:1px;background:#eeeeee"></div>
<div style="left:414px;top:437px;width:3px;height:1px;background:#ffffff"></div>
<div style="left:417px;top:437px;width:1px;height:1px;background:#747474"></div>
<div style="left:419px;top:437px;width:1px;height:1px;background:#888888"></div>
<div style="left:420px;top:437px;width:3px;height:1px;background:#ffffff"></div>
<div style="left:414px;top:438px;width:3px;height:1px;background:#ffffff"></div>
<div style="left:417px;top:438px;width:1px;height:1px;background:#747474"></div>
<div style="left:419px;top:438px;width:1px;height:1px;background:#888888"></div>
<div style="left:420px;top:438px;width:3px;height:1px;background:#ffffff"></div>
<div style="left:414px;top:439px;width:3px;height:1px;background:#ffffff"></div>
<div style="left:420px;top:439px;width:3px;height:1px;background:#ffffff"></div>
<div style="left:526px;top:437px;width:3px;height:1px;background:#ffffff"></div>
<div style="left:529px;top:437px;width:1px;height:1px;background:#a6a6a6"></div>
<div style="left:531px;top:437px;width:1px;height:1px;background:#5b5b5b"></div>
<div style="left:532px;top:437px;width:3px;height:1px;background:#ffffff"></div>
<div style="left:526px;top:438px;width:3px;height:1px;background:#ffffff"></div>
<div style="left:529px;top:438px;width:1px;height:1px;background:#a6a6a6"></div>
<div style="left:531px;top:438px;width:1px;height:1px;background:#5b5b5b"></div>
<div style="left:532px;top:438px;width:3px;height:1px;background:#ffffff"></div>
<div style="left:526px;top:439px;width:3px;height:1px;background:#ffffff"></div>
<div style="left:532px;top:439px;width:3px;height:1px;background:#ffffff"></div>
<div style="left:175px;top:467px;width:3px;height:1px;background:#eeeeee"></div>
<div style="left:178px;top:467px;width:1px;height:1px;background:#434343"></div>
<div style="left:180px;top:467px;width:1px;height:1px;background:#c6c6c6"></div>
<div style="left:181px;top:467px;width:3px;height:1px;background:#eeeeee"></div>
<div style="left:175px;top:468px;width:3px;height:1px;background:#eeeeee"></div>
<div style="left:178px;top:468px;width:1px;height:1px;background:#434343"></div>
<div style="left:180px;top:468px;width:1px;height:1px;background:#c6c6c6"></div>
<div style="left:181px;top:468px;width:3px;height:1px;background:#eeeeee"></div>
<div style="left:175px;top:469px;width:3px;height:1px;background:#eeeeee"></div>
<div style="left:180px;top:469px;width:1px;height:1px;background:#c6c6c6"></div>
<div style="left:181px;top:469px;width:3px;height:1px;background:#eeeeee"></div>
<div style="left:175px;top:497px;width:3px;height:1px;background:#eeeeee"></div>
<div style="left:178px;top:497px;width:1px;height:1px;background:#434343"></div>
<div style="left:180px;top:497px;width:1px;height:1px;background:#c6c6c6"></div>
<div style="left:181px;top:497px;width:3px;height:1px;background:#eeeeee"></div>
<div style="left:175px;top:498px;width:3px;height:1px;background:#eeeeee"></div>
<div style="left:178px;top:498px;width:1px;height:1px;background:#434343"></div>
<div style="left:180px;top:498px;width:1px;height:1px;background:#c6c6c6"></div>
<div style="left:181px;top:498px;width:3px;height:1px;background:#eeeeee"></div>
<div style="left:175px;top:499px;width:3px;height:1px;background:#eeeeee"></div>
<div style="left:180px;top:499px;width:1px;height:1px;background:#c6c6c6"></div>
<div style="left:181px;top:499px;width:3px;height:1px;background:#eeeeee"></div>
<div style="left:427px;top:497px;width:3px;height:1px;background:#ffffff"></div>
<div style="left:430px;top:497px;width:1px;height:1px;background:#a6a6a6"></div>
<div style="left:432px;top:497px;width:1px;height:1px;background:#5b5b5b"></div>
<div style="left:433px;top:497px;width:3px;height:1px;background:#ffffff"></div>
<div style="left:427px;top:498px;width:3px;height:1px;background:#ffffff"></div>
<div style="left:430px;top:498px;width:1px;height:1px;background:#a6a6a6"></div>
<div style="left:432px;top:498px;width:1px;height:1px;background:#5b5b5b"></div>
<div style="left:433px;top:498px;width:3px;height:1px;background:#ffffff"></div>
<div style="left:427px;top:499px;width:3px;height:1px;background:#ffffff"></div>
<div style="left:433px;top:499px;width:3px;height:1px;background:#ffffff"></div>
<div style="left:620px;top:497px;width:3px;height:1px;background:#ffffff"></div>
<div style="left:623px;top:497px;width:1px;height:1px;background:#a6a6a6"></div>
<div style="left:625px;top:497px;width:1px;height:1px;background:#5b5b5b"></div>
<div style="left:626px;top:497px;width:3px;height:1px;background:#ffffff"></div>
<div style="left:620px;top:498px;width:3px;height:1px;background:#ffffff"></div>
<div style="left:623px;top:498px;width:1px;height:1px;background:#a6a6a6"></div>
<div style="left:625px;top:498px;width:1px;height:1px;background:#5b5b5b"></div>
<div style="left:626px;top:498px;width:3px;height:1px;background:#ffffff"></div>
<div style="left:620px;top:499px;width:3px;height:1px;background:#ffffff"></div>
<div style="left:626px;top:499px;width:3px;height:1px;background:#ffffff"></div>
<div style="left:175px;top:526px;width:3px;height:1px;background:#eeeeee"></div>
<div style="left:178px;top:526px;width:1px;height:1px;background:#434343"></div>
<div style="left:180px;top:526px;width:1px;height:1px;background:#c6c6c6"></div>
<div style="left:181px;top:526px;width:3px;height:1px;background:#eeeeee"></div>
<div style="left:175px;top:527px;width:3px;height:1px;background:#eeeeee"></div>
<div style="left:178px;top:527px;width:1px;height:1px;background:#434343"></div>
<div style="left:180px;top:527px;width:1px;height:1px;background:#c6c6c6"></div>
<div style="left:181px;top:527px;width:3px;height:1px;background:#eeeeee"></div>
<div style="left:175px;top:528px;width:3px;height:1px;background:#eeeeee"></div>
<div style="left:180px;top:528px;width:1px;height:1px;background:#c6c6c6"></div>
<div style="left:181px;top:528px;width:3px;height:1px;background:#eeeeee"></div>
<div style="left:533px;top:526px;width:3px;height:1px;background:#ffffff"></div>
<div style="left:536px;top:526px;width:1px;height:1px;background:#a6a6a6"></div>
<div style="left:538px;top:526px;width:1px;height:1px;background:#5b5b5b"></div>
<div style="left:539px;top:526px;width:3px;height:1px;background:#ffffff"></div>
<div style="left:533px;top:527px;width:3px;height:1px;background:#ffffff"></div>
<div style="left:536px;top:527px;width:1px;height:1px;background:#a6a6a6"></div>
<div style="left:538px;top:527px;width:1px;height:1px;background:#5b5b5b"></div>
<div style="left:539px;top:527px;width:3px;height:1px;background:#ffffff"></div>
<div style="left:533px;top:528px;width:3px;height:1px;background:#ffffff"></div>
<div style="left:539px;top:528px;width:3px;height:1px;background:#ffffff"></div>
<div style="left:620px;top:526px;width:3px;height:1px;background:#ffffff"></div>
<div style="left:623px;top:526px;width:1px;height:1px;background:#a6a6a6"></div>
<div style="left:625px;top:526px;width:1px;height:1px;background:#5b5b5b"></div>
<div style="left:626px;top:526px;width:3px;height:1px;background:#ffffff"></div>
<div style="left:620px;top:527px;width:3px;height:1px;background:#ffffff"></div>
<div style="left:623px;top:527px;width:1px;height:1px;background:#a6a6a6"></div>
<div style="left:625px;top:527px;width:1px;height:1px;background:#5b5b5b"></div>
<div style="left:626px;top:527px;width:3px;height:1px;background:#ffffff"></div>
<div style="left:620px;top:528px;width:3px;height:1px;background:#ffffff"></div>
<div style="left:626px;top:528px;width:3px;height:1px;background:#ffffff"></div>
<div style="left:175px;top:556px;width:3px;height:1px;background:#eeeeee"></div>
<div style="left:178px;top:556px;width:1px;height:1px;background:#434343"></div>
<div style="left:180px;top:556px;width:1px;height:1px;background:#c6c6c6"></div>
<div style="left:181px;top:556px;width:3px;height:1px;background:#eeeeee"></div>
<div style="left:175px;top:557px;width:3px;height:1px;background:#eeeeee"></div>
<div style="left:178px;top:557px;width:1px;height:1px;background:#434343"></div>
<div style="left:180px;top:557px;width:1px;height:1px;background:#c6c6c6"></div>
<div style="left:181px;top:557px;width:3px;height:1px;background:#eeeeee"></div>
<div style="left:175px;top:558px;width:3px;height:1px;background:#eeeeee"></div>
<div style="left:180px;top:558px;width:1px;height:1px;background:#c6c6c6"></div>
<div style="left:181px;top:558px;width:3px;height:1px;background:#eeeeee"></div>
</div></body></html>
